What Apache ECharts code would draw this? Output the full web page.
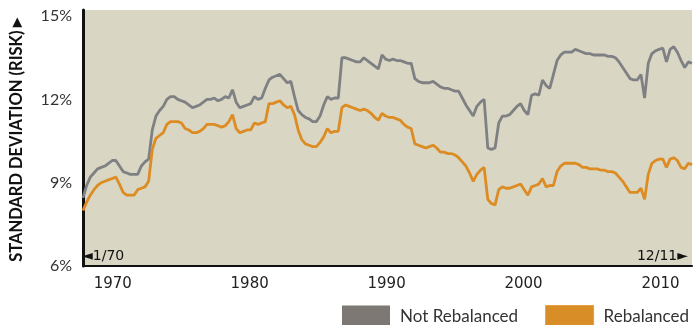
<!DOCTYPE html>
<html>
<head>
<meta charset="utf-8">
<script src="https://cdn.jsdelivr.net/npm/echarts@6/dist/echarts.min.js"></script>
<style>
  html, body { margin: 0; padding: 0; background: #ffffff; }
  #chart { width: 700px; height: 325px; }
</style>
</head>
<body>
<div id="chart"></div>
<script>
// Rolling standard deviation of a portfolio, quarterly from 1/70 to 12/11 (%)
const notRebalanced = [
  8.45, 8.9, 9.2, 9.35, 9.5, 9.55, 9.6, 9.7, 9.8, 9.8,
  9.6, 9.4, 9.35, 9.3, 9.3, 9.3, 9.6, 9.75, 9.85, 10.9,
  11.4, 11.6, 11.75, 12.0, 12.1, 12.1, 12.0, 11.95, 11.9, 11.8,
  11.7, 11.75, 11.8, 11.9, 12.0, 12.0, 12.05, 11.95, 12.0, 12.1,
  12.05, 12.35, 11.9, 11.7, 11.75, 11.8, 11.85, 12.1, 12.0, 12.05,
  12.4, 12.7, 12.8, 12.85, 12.9, 12.75, 12.6, 12.65, 12.1, 11.6,
  11.45, 11.35, 11.3, 11.2, 11.2, 11.4, 11.8, 12.1, 12.0, 12.05,
  12.05, 13.5, 13.5, 13.45, 13.4, 13.35, 13.35, 13.5, 13.4, 13.3,
  13.2, 13.1, 13.6, 13.45, 13.4, 13.45, 13.4, 13.4, 13.35, 13.3,
  13.3, 12.75, 12.65, 12.6, 12.6, 12.6, 12.65, 12.55, 12.45, 12.4,
  12.4, 12.35, 12.3, 12.3, 12.05, 11.8, 11.6, 11.4, 11.75, 11.9,
  12.0, 10.25, 10.2, 10.25, 11.15, 11.4, 11.4, 11.45, 11.6, 11.75,
  11.85, 11.6, 11.45, 12.15, 12.2, 12.15, 12.7, 12.5, 12.4, 12.9,
  13.4, 13.6, 13.7, 13.7, 13.7, 13.8, 13.75, 13.7, 13.65, 13.65,
  13.6, 13.6, 13.6, 13.6, 13.55, 13.55, 13.5, 13.35, 13.15, 12.95,
  12.75, 12.7, 12.7, 12.9, 12.05, 13.3, 13.65, 13.75, 13.8, 13.85,
  13.35, 13.8, 13.9, 13.7, 13.4, 13.15, 13.35, 13.3
];

const rebalanced = [
  8.0, 8.3, 8.55, 8.75, 8.9, 9.0, 9.05, 9.1, 9.15, 9.2,
  8.95, 8.65, 8.55, 8.55, 8.55, 8.75, 8.8, 8.85, 9.05, 10.2,
  10.6, 10.7, 10.8, 11.1, 11.2, 11.2, 11.2, 11.15, 10.95, 10.9,
  10.8, 10.8, 10.85, 10.95, 11.1, 11.1, 11.1, 11.05, 11.0, 11.05,
  11.2, 11.45, 10.95, 10.8, 10.85, 10.9, 10.9, 11.15, 11.1, 11.15,
  11.2, 11.85, 11.85, 11.9, 11.95, 11.8, 11.7, 11.75, 11.45, 10.9,
  10.55, 10.4, 10.35, 10.3, 10.3, 10.45, 10.65, 10.95, 10.8, 10.85,
  10.85, 11.7, 11.8, 11.75, 11.7, 11.65, 11.6, 11.65, 11.6, 11.5,
  11.35, 11.25, 11.5, 11.4, 11.35, 11.35, 11.3, 11.25, 11.1, 11.0,
  10.95, 10.4, 10.35, 10.3, 10.25, 10.3, 10.35, 10.25, 10.1, 10.1,
  10.05, 10.05, 10.0, 9.9, 9.75, 9.6, 9.35, 9.05, 9.3, 9.45,
  9.55, 8.4, 8.25, 8.2, 8.75, 8.85, 8.8, 8.8, 8.85, 8.9,
  8.95, 8.75, 8.55, 8.85, 8.9, 8.95, 9.15, 8.85, 8.9, 8.9,
  9.4, 9.6, 9.7, 9.7, 9.7, 9.7, 9.65, 9.55, 9.55, 9.5,
  9.5, 9.5, 9.45, 9.45, 9.4, 9.4, 9.35, 9.2, 9.05, 8.85,
  8.65, 8.65, 8.65, 8.8, 8.4, 9.3, 9.7, 9.8, 9.85, 9.85,
  9.55, 9.85, 9.9, 9.8, 9.55, 9.5, 9.7, 9.65
];

// Quarter categories, 1970 Q1 .. 2011 Q4
const quarters = [];
for (let y = 1970; y <= 2011; y++) {
  for (let q = 1; q <= 4; q++) quarters.push(y + ' Q' + q);
}

const yearTicks = [1970, 1980, 1990, 2000, 2010];
const yTicks = [6, 9, 12, 15];
const seriesNames = ['Not Rebalanced', 'Rebalanced'];

const GREY = '#7f8083';
const ORANGE = '#dc8c22';

const chart = echarts.init(document.getElementById('chart'), null, { renderer: 'canvas' });

chart.setOption({
  animation: false,
  backgroundColor: '#ffffff',
  grid: {
    left: 77, right: 8, top: 10, bottom: 59,
    show: true, backgroundColor: '#d9d6c3', borderWidth: 0
  },
  legend: {
    data: [
      { name: seriesNames[0], itemStyle: { color: '#7d7873' } },
      { name: seriesNames[1], itemStyle: { color: '#d88d27', borderColor: '#e6a040', borderWidth: 1 } }
    ],
    left: 337, top: 300,
    itemWidth: 48, itemHeight: 22, itemGap: 27,
    icon: 'rect',
    textStyle: {
      fontFamily: 'Lato', fontSize: 17, color: '#333333',
      padding: [0, 0, 0, 5]
    }
  },
  xAxis: [
    {
      type: 'category',
      data: quarters,
      boundaryGap: false,
      axisLine: { show: true, onZero: false, lineStyle: { color: '#111111', width: 2 } },
      axisTick: { show: false },
      axisLabel: { show: false },
      splitLine: { show: false }
    },
    {
      // decade labels under the plot
      type: 'value',
      position: 'bottom',
      min: 1967.83, max: 2012.3,
      axisLine: { show: false },
      axisTick: { show: false },
      splitLine: { show: false },
      axisLabel: {
        customValues: yearTicks,
        margin: 11,
        fontFamily: 'DejaVu Sans', fontSize: 15, color: '#222222',
        formatter: v => String(v)
      }
    }
  ],
  yAxis: {
    type: 'value',
    min: 6, max: 15.22,
    axisLine: { show: true, lineStyle: { color: '#111111', width: 3 } },
    axisTick: { show: false },
    splitLine: { show: false },
    axisLabel: {
      customValues: yTicks,
      margin: 11,
      fontFamily: 'Lato', fontSize: 16, color: '#333333',
      formatter: v => v + '%'
    },
    name: 'STANDARD DEVIATION (RISK)\u25BA',
    nameLocation: 'middle',
    nameRotate: 90,
    nameGap: 58,
    nameTextStyle: {
      fontFamily: 'Lato', fontWeight: 'bold', fontSize: 16.5, color: '#111111'
    }
  },
  series: [
    {
      name: seriesNames[0], type: 'line', xAxisIndex: 0,
      data: notRebalanced, showSymbol: false,
      lineStyle: { color: GREY, width: 2.8 },
      itemStyle: { color: GREY }
    },
    {
      name: seriesNames[1], type: 'line', xAxisIndex: 0,
      data: rebalanced, showSymbol: false,
      lineStyle: { color: ORANGE, width: 2.8 },
      itemStyle: { color: ORANGE }
    }
  ],
  graphic: [
    {
      type: 'text', left: 82, top: 249,
      style: { text: '\u25C41/70', font: '14px "DejaVu Sans"', fill: '#111111' }
    },
    {
      type: 'text', right: 12, top: 249,
      style: { text: '12/11\u25BA', font: '14px "DejaVu Sans"', fill: '#111111' }
    }
  ]
});
</script>
</body>
</html>
